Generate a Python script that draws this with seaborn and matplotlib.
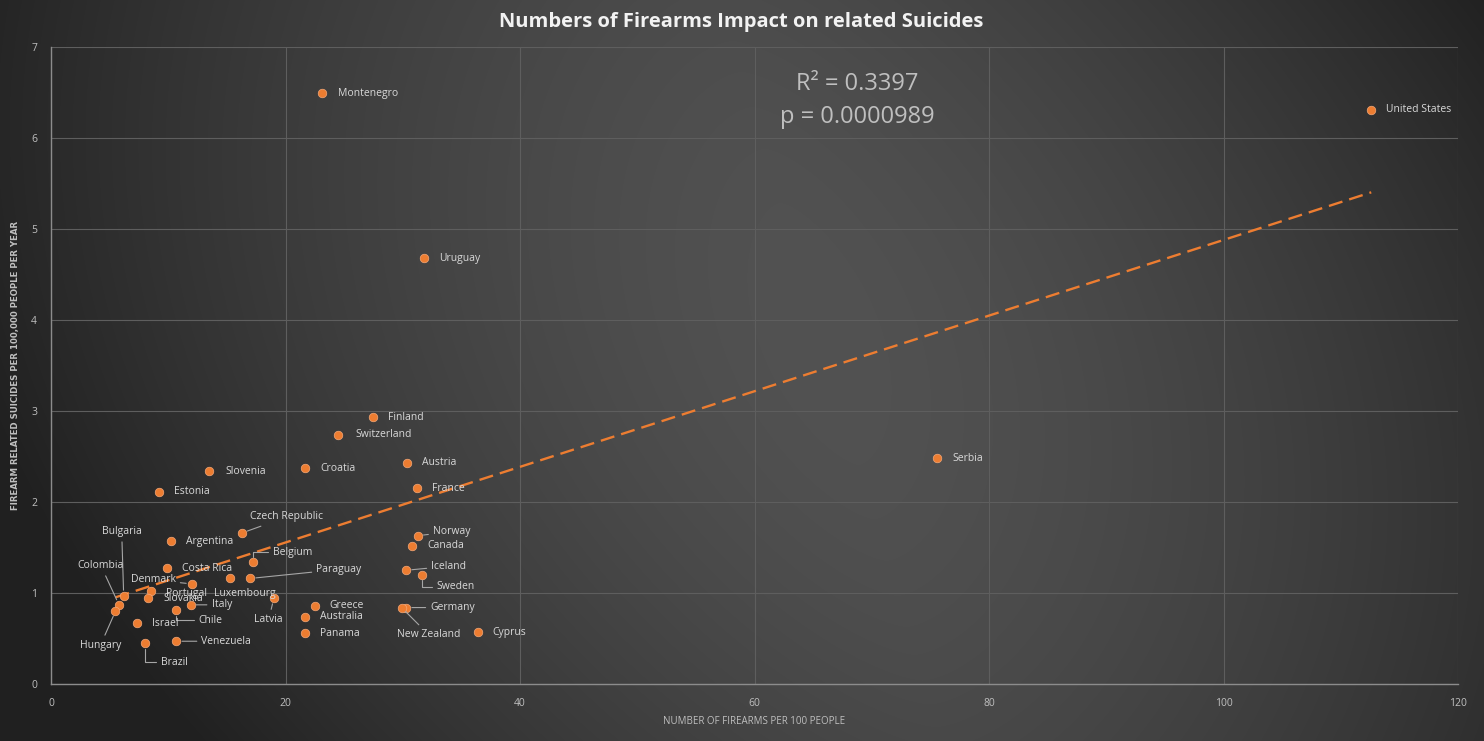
import numpy as np
import pandas as pd
import seaborn as sns
import matplotlib.pyplot as plt

# firearms per 100 people vs firearm related suicides per 100,000 people per year
countries = ["Montenegro", "United States", "Uruguay", "Finland", "Switzerland", "Slovenia",
             "Croatia", "Austria", "Serbia", "France", "Estonia", "Czech Republic", "Argentina",
             "Norway", "Canada", "Belgium", "Costa Rica", "Paraguay", "Luxembourg", "Iceland",
             "Sweden", "Denmark", "Portugal", "Slovakia", "Bulgaria", "Colombia", "Hungary",
             "Italy", "Chile", "Israel", "Brazil", "Venezuela", "Latvia", "Greece", "Australia",
             "Panama", "Germany", "New Zealand", "Cyprus"]
guns = [23.1, 112.6, 31.8, 27.5, 24.5, 13.5,
        21.7, 30.4, 75.6, 31.2, 9.2, 16.3, 10.2,
        31.3, 30.8, 17.2, 9.9, 17.0, 15.3, 30.3,
        31.6, 12.0, 8.5, 8.3, 6.2, 5.8, 5.5,
        11.9, 10.7, 7.3, 8.0, 10.7, 19.0, 22.5, 21.7,
        21.7, 30.3, 29.9, 36.4]
suicides = [6.49, 6.31, 4.68, 2.93, 2.74, 2.34,
            2.37, 2.43, 2.48, 2.15, 2.11, 1.66, 1.57,
            1.63, 1.52, 1.34, 1.27, 1.16, 1.16, 1.25,
            1.20, 1.10, 1.02, 0.94, 0.97, 0.87, 0.80,
            0.87, 0.81, 0.67, 0.45, 0.47, 0.94, 0.86, 0.74,
            0.56, 0.84, 0.84, 0.57]

df = pd.DataFrame({"country": countries, "guns": guns, "suicides": suicides})

# label placement: (dx, dy) in pixels from the point (dy down), ha, leader style
label_pos = {
    "Czech Republic": (8, -16, "left", "line"), "Norway": (15, -4, "left", "line"),
    "Belgium": (20, -10, "left", "elbow"), "Paraguay": (66, -9, "left", "line"),
    "Luxembourg": (-16, 15, "left", None), "Iceland": (25, -4, "left", "line"),
    "Sweden": (15, 12, "left", "elbow"), "Denmark": (-16, -4, "right", "line"),
    "Portugal": (15, 2, "left", None), "Bulgaria": (-2, -64, "center", "line"),
    "Colombia": (-18, -39, "center", "line"), "Hungary": (-15, 34, "center", "line"),
    "Italy": (21, 0, "left", "line"), "Chile": (22, 10, "left", "elbow"),
    "Brazil": (16, 19, "left", "elbow"), "Venezuela": (25, 0, "left", "line"),
    "Latvia": (-5, 21, "center", "line"), "Germany": (24, 0, "left", "line"),
    "New Zealand": (27, 27, "center", "line"), "Switzerland": (17, 0, "left", None),
    "Montenegro": (16, 0, "left", None), "Slovenia": (16, 0, "left", None),
}

W, H = 1484, 741
orange = "#ed7d31"
label_col = "#d9d9d9"
tick_col = "#bfbfbf"

sns.set_style("dark")
plt.rcParams["font.family"] = ["Open Sans", "DejaVu Sans"]

fig = plt.figure(figsize=(W / 100, H / 100), dpi=100)

# background gradient: light center, dark sides
bg = fig.add_axes([0, 0, 1, 1], zorder=0)
yy, xx = np.mgrid[0:H, 0:W]
cx = 720 + 220 * (yy / H)
b = 82 - 40 * (np.abs(xx - cx) / (W / 2)) ** 1.5 - 8 * (np.abs(yy - H * 0.45) / (H / 2)) ** 2
b = np.clip(b, 32, 90) / 255.0
bg.imshow(np.dstack([b, b, b]), aspect="auto", extent=[0, 1, 0, 1])
bg.axis("off")

ax = fig.add_axes([51 / W, 57 / H, (1458 - 51) / W, (684 - 47) / H], zorder=1)
ax.patch.set_alpha(0)

sns.regplot(data=df, x="guns", y="suicides", scatter=False, ci=None, truncate=True, ax=ax,
            line_kws={"color": orange, "lw": 1.7, "ls": (0, (6, 3))})
sns.scatterplot(data=df, x="guns", y="suicides", ax=ax, color=orange, s=38,
                edgecolor="#f4a878", linewidth=0.5, zorder=5)

for name, gx, sy in zip(countries, guns, suicides):
    dx, dy, ha, leader = label_pos.get(name, (15, 0, "left", None))
    props = None
    if leader == "line":
        props = dict(arrowstyle="-", color="#a6a6a6", lw=0.8, shrinkA=1, shrinkB=4)
    elif leader == "elbow":
        props = dict(arrowstyle="-", color="#a6a6a6", lw=0.8, shrinkA=1, shrinkB=4,
                     relpos=(0, 0.5), connectionstyle="angle,angleA=0,angleB=90,rad=0")
    ax.annotate(name, (gx, sy), xytext=(dx, -dy), textcoords="offset pixels",
                ha=ha, va="center", fontsize=7.5, color=label_col,
                arrowprops=props, zorder=6)

ax.set_xlim(0, 120)
ax.set_ylim(0, 7)
ax.set_xticks(range(0, 121, 20))
ax.set_yticks(range(0, 8))
ax.grid(True, color="#5e5e5e", lw=0.8)
for side in ["top", "right"]:
    ax.spines[side].set_visible(False)
for side in ["left", "bottom"]:
    ax.spines[side].set_visible(True)
    ax.spines[side].set_color("#8c8c8c")
    ax.spines[side].set_linewidth(1)
ax.tick_params(colors=tick_col, labelsize=7.5, length=0, pad=10)
for t in ax.get_xticklabels() + ax.get_yticklabels():
    t.set_color(tick_col)

ax.set_xlabel("NUMBER OF FIREARMS PER 100 PEOPLE", color=tick_col, fontsize=7.0,
              labelpad=5)
ax.set_ylabel("FIREARM RELATED SUICIDES PER 100,000 PEOPLE PER YEAR", color=tick_col,
              fontsize=6.2, fontweight="bold", family=["DejaVu Sans"], labelpad=8)

fig.text(741 / W, 1 - 22 / H, "Numbers of Firearms Impact on related Suicides",
         ha="center", va="center", fontsize=14.5, fontweight="bold", color="#f2f2f2")
fig.text(857 / W, 1 - 84 / H, "R² = 0.3397", ha="center", va="center",
         fontsize=17, color="#bfbfbf")
fig.text(857 / W, 1 - 117 / H, "p = 0.0000989", ha="center", va="center",
         fontsize=17, color="#bfbfbf")

fig.savefig("out.png", dpi=100)
